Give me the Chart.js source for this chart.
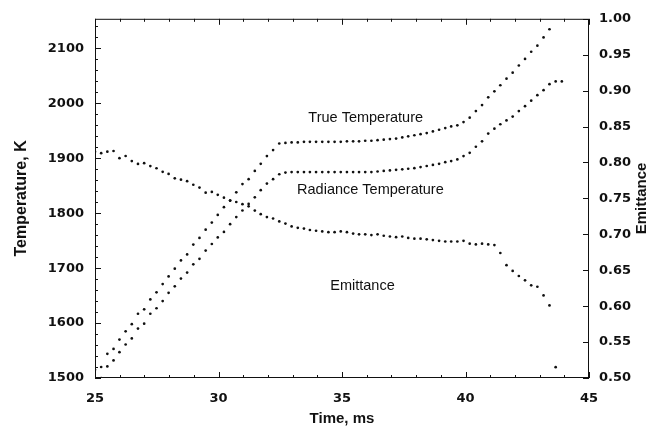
<!DOCTYPE html>
<html><head><meta charset="utf-8">
<script src="https://cdn.jsdelivr.net/npm/chart.js@4.4.0/dist/chart.umd.min.js"></script>
<style>html,body{margin:0;padding:0;background:#fff;}#wrap{width:654px;height:434px;position:relative;}</style>
</head><body><div id="wrap"><canvas id="c"></canvas></div>
<script>
// ---- data ----
const timeMs = [25.00,25.25,25.50,25.75,25.99,26.24,26.49,26.74,26.99,27.24,
  27.49,27.74,27.98,28.23,28.48,28.73,28.98,29.23,29.48,29.73,
  29.97,30.22,30.47,30.72,30.97,31.22,31.47,31.71,31.96,32.21,
  32.46,32.71,32.96,33.21,33.46,33.70,33.95,34.20,34.45,34.70,
  34.95,35.20,35.45,35.69,35.94,36.19,36.44,36.69,36.94,37.19,
  37.44,37.68,37.93,38.18,38.43,38.68,38.93,39.18,39.42,39.67,
  39.92,40.17,40.42,40.67,40.92,41.17,41.41,41.66,41.91,42.16,
  42.41,42.66,42.91,43.16,43.40,43.65,43.90];
const trueTemp = [1515,1520,1544,1553,1570,1585,1598,1617,1625,1643,
  1656,1671,1685,1699,1714,1725,1743,1755,1770,1783,
  1797,1811,1823,1838,1853,1862,1877,1890,1904,1915,
  1927,1928,1929,1929,1930,1930,1930,1930,1930,1930,
  1930,1931,1931,1931,1932,1932,1933,1934,1935,1936,
  1938,1940,1942,1944,1946,1949,1952,1955,1958,1960,
  1966,1974,1986,1997,2011,2022,2033,2045,2056,2069,
  2081,2094,2105,2120,2135,null,null];
const radianceTemp = [null,1500,1521,1532,1547,1561,1572,1590,1599,1617,
  1627,1640,1655,1667,1681,1692,1707,1717,1732,1744,
  1756,1766,1780,1793,1805,1817,1829,1842,1854,1862,
  1871,1874,1875,1875,1875,1875,1875,1875,1875,1875,
  1875,1875,1875,1875,1875,1875,1876,1877,1878,1879,
  1880,1881,1882,1884,1886,1888,1890,1893,1895,1898,
  1904,1910,1921,1931,1945,1954,1962,1969,1976,1986,
  1995,2005,2015,2024,2035,2040,2040];
const emittance = [0.815,0.813,0.815,0.816,0.806,0.809,0.802,0.798,0.799,0.795,
  0.792,0.787,0.784,0.778,0.776,0.774,0.769,0.765,0.758,0.759,
  0.755,0.751,0.747,0.745,0.742,0.739,0.733,0.728,0.724,0.722,
  0.718,0.715,0.711,0.709,0.708,0.706,0.705,0.704,0.703,0.703,
  0.704,0.703,0.701,0.700,0.700,0.699,0.700,0.698,0.697,0.696,
  0.697,0.695,0.694,0.694,0.693,0.692,0.691,0.690,0.690,0.690,
  0.691,0.687,0.686,0.687,0.686,0.685,0.674,0.657,0.649,0.642,
  0.636,0.629,0.627,0.615,0.601,0.515,null];
const timeTicks = [25,30,35,40,45];
const tempTicks = [1500,1600,1700,1800,1900,2000,2100];
const emitTicks = [0.50,0.55,0.60,0.65,0.70,0.75,0.80,0.85,0.90,0.95,1.00];
const curveLabels = ['True Temperature','Radiance Temperature','Emittance'];
const axisTitles = {x:'Time, ms', y:'Temperature, K', y2:'Emittance'};

function pts(vals){ const out=[]; vals.forEach((v,i)=>{ if(v!==null) out.push({x:timeMs[i],y:v}); }); return out; }

const tickFont = {family:'DejaVu Sans', size:13, weight:'bold'};
const ink = '#111';

const framePlugin = {
  id:'frame',
  afterDraw(chart){
    const {ctx, chartArea:a, scales:s} = chart;
    ctx.save();
    ctx.strokeStyle = ink; ctx.lineWidth = 1;
    ctx.strokeRect(a.left+0.5, a.top+0.5, a.right-a.left-1, a.bottom-a.top-1);
    ctx.beginPath();
    for(let t=25;t<=45;t+=1){
      const px = Math.round(s.x.getPixelForValue(t))+0.5;
      const L = (t%5===0)?6:3;
      ctx.moveTo(px,a.bottom); ctx.lineTo(px,a.bottom-L);
      ctx.moveTo(px,a.top); ctx.lineTo(px,a.top+L);
    }
    for(let T=1500;T<=2150;T+=20){
      const py = Math.round(s.y.getPixelForValue(T))+0.5;
      const L = (T%100===0)?6:3;
      ctx.moveTo(a.left,py); ctx.lineTo(a.left+L,py);
    }
    for(let k=0;k<=10;k++){
      const py = Math.round(s.y2.getPixelForValue(0.5+k*0.05))+0.5;
      ctx.moveTo(a.right,py); ctx.lineTo(a.right-6,py);
    }
    ctx.stroke();
    // curve labels
    ctx.fillStyle = ink;
    ctx.font = '14.5px "Liberation Sans", Arial, sans-serif';
    ctx.textAlign='center'; ctx.textBaseline='middle';
    ctx.fillText(curveLabels[0], s.x.getPixelForValue(35.96), s.y.getPixelForValue(1974));
    ctx.fillText(curveLabels[1], s.x.getPixelForValue(36.15), s.y.getPixelForValue(1842));
    ctx.fillText(curveLabels[2], s.x.getPixelForValue(35.83), s.y.getPixelForValue(1667));
    // right axis title (reads bottom to top)
    ctx.font = 'bold 15px "Liberation Sans", Arial, sans-serif';
    ctx.translate(a.right+53, (a.top+a.bottom)/2);
    ctx.rotate(-Math.PI/2);
    ctx.fillText(axisTitles.y2, 0, 0);
    ctx.restore();
  }
};

const common = {type:'scatter', showLine:false, pointStyle:'circle', pointRadius:1.35, pointHoverRadius:1.35,
  backgroundColor:ink, borderWidth:0};

new Chart(document.getElementById('c'), {
  type:'scatter',
  data:{datasets:[
    Object.assign({label:curveLabels[0], data:pts(trueTemp), yAxisID:'y'}, common),
    Object.assign({label:curveLabels[1], data:pts(radianceTemp), yAxisID:'y'}, common),
    Object.assign({label:curveLabels[2], data:pts(emittance), yAxisID:'y2'}, common)
  ]},
  options:{
    responsive:true, maintainAspectRatio:false, animation:false,
    layout:{padding:{top:17,left:0,right:0,bottom:0}},
    plugins:{legend:{display:false}, tooltip:{enabled:false}},
    scales:{
      x:{type:'linear', min:25, max:45, position:'bottom',
        afterBuildTicks(sc){ sc.ticks = timeTicks.map(v=>({value:v})); },
        afterFit(sc){ sc.height = 56; },
        grid:{display:false, drawTicks:false}, border:{display:false},
        ticks:{font:tickFont, color:ink, padding:13, maxRotation:0, callback:v=>String(v)},
        title:{display:true, text:axisTitles.x, color:ink, padding:{top:0,bottom:6},
          font:{family:'Liberation Sans', size:15, weight:'bold'}}},
      y:{type:'linear', min:1500, max:2154, position:'left',
        afterBuildTicks(sc){ sc.ticks = tempTicks.map(v=>({value:v})); },
        afterFit(sc){ sc.width = 95; },
        grid:{display:false, drawTicks:false}, border:{display:false},
        ticks:{font:tickFont, color:ink, padding:11, callback:v=>String(v)},
        title:{display:true, text:axisTitles.y, color:ink, padding:{top:12,bottom:0},
          font:{family:'Liberation Sans', size:16, weight:'bold'}}},
      y2:{type:'linear', min:0.5, max:1.0, position:'right',
        afterBuildTicks(sc){ sc.ticks = emitTicks.map(v=>({value:v})); },
        afterFit(sc){ sc.width = 65; },
        grid:{display:false, drawTicks:false}, border:{display:false},
        ticks:{font:tickFont, color:ink, padding:10, callback:v=>Number(v).toFixed(2)}}
    }
  },
  plugins:[framePlugin]
});
</script></body></html>
